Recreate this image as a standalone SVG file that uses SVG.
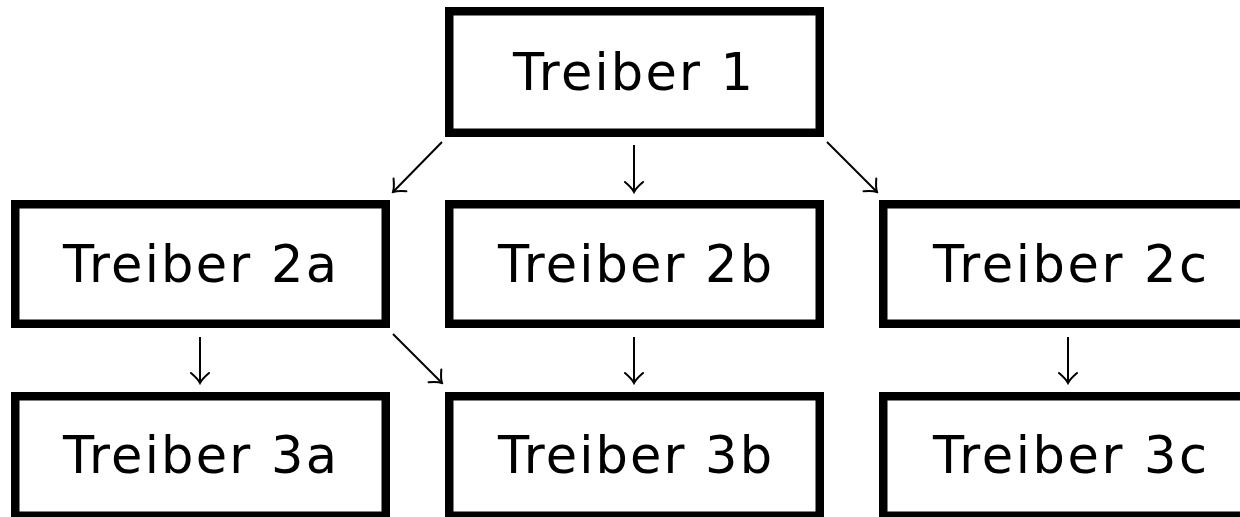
<svg xmlns="http://www.w3.org/2000/svg" width="1240" height="517" viewBox="0 0 1240 517">
<defs>
<style>
.box{fill:#fff;stroke:#000;stroke-width:8.5}
.lbl{font-family:"DejaVu Sans","Liberation Sans",sans-serif;font-size:51px;fill:#000;text-anchor:middle}
.arr{stroke:#000;stroke-width:2;fill:none;marker-end:url(#ah)}
</style>
<marker id="ah" markerUnits="userSpaceOnUse" viewBox="-14 -12 16 24" markerWidth="16" markerHeight="24" refX="0" refY="0" orient="auto">
<path d="M -10 -9 Q -4 -2 0 0 Q -4 2 -10 9" fill="none" stroke="#000" stroke-width="2" stroke-linecap="round"/>
</marker>
</defs>
<rect width="1240" height="517" fill="#fff"/>
<g id="n1"><rect class="box" x="449.25" y="11.25" width="370.5" height="121.5"/><text class="lbl" x="633" y="90" textLength="240" lengthAdjust="spacing">Treiber 1</text></g>
<g id="n2a"><rect class="box" x="15.25" y="204.25" width="370.5" height="119.5"/><text class="lbl" x="200" y="282" textLength="274" lengthAdjust="spacing">Treiber 2a</text></g>
<g id="n2b"><rect class="box" x="449.25" y="204.25" width="370.5" height="119.5"/><text class="lbl" x="635" y="282" textLength="274" lengthAdjust="spacing">Treiber 2b</text></g>
<g id="n2c"><rect class="box" x="883.25" y="204.25" width="370.5" height="119.5"/><text class="lbl" x="1070" y="282" textLength="274" lengthAdjust="spacing">Treiber 2c</text></g>
<g id="n3a"><rect class="box" x="15.25" y="396.25" width="370.5" height="119.5"/><text class="lbl" x="200" y="473" textLength="274" lengthAdjust="spacing">Treiber 3a</text></g>
<g id="n3b"><rect class="box" x="449.25" y="396.25" width="370.5" height="119.5"/><text class="lbl" x="635" y="473" textLength="274" lengthAdjust="spacing">Treiber 3b</text></g>
<g id="n3c"><rect class="box" x="883.25" y="396.25" width="370.5" height="119.5"/><text class="lbl" x="1070" y="473" textLength="274" lengthAdjust="spacing">Treiber 3c</text></g>
<g id="connectors">
<line class="arr" x1="442" y1="142" x2="393" y2="192"/>
<line class="arr" x1="634" y1="145" x2="634" y2="192"/>
<line class="arr" x1="827" y1="142" x2="877" y2="192"/>
<line class="arr" x1="200" y1="337" x2="200" y2="383"/>
<line class="arr" x1="393" y1="334" x2="442" y2="383"/>
<line class="arr" x1="634" y1="337" x2="634" y2="383"/>
<line class="arr" x1="1068" y1="337" x2="1068" y2="383"/>
</g>
</svg>
